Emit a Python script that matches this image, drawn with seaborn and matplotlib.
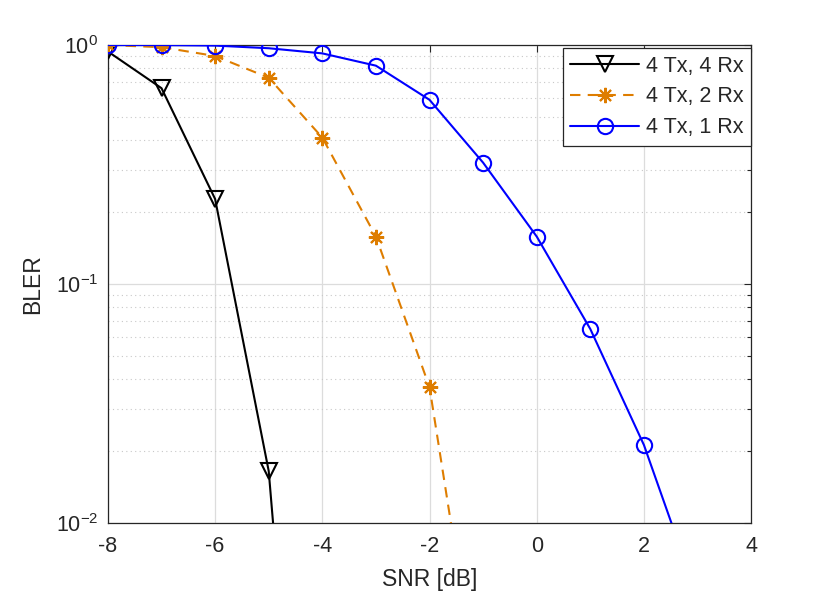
import matplotlib
matplotlib.use("Agg")
import matplotlib.pyplot as plt
import matplotlib.ticker as mticker
import seaborn as sns
import pandas as pd
import numpy as np

# SNR points (dB)
snr = [-8, -7, -6, -5, -4, -3, -2, -1, 0, 1, 2, 3]

# BLER values
bler_4rx = [0.94, 0.66, 0.227, 0.0165, 3.5e-5]
bler_2rx = [1.0, 0.98, 0.90, 0.73, 0.41, 0.158, 0.037, 0.0014]
bler_1rx = [1.0, 1.0, 0.995, 0.97, 0.923, 0.82, 0.59, 0.322, 0.158, 0.0648, 0.0212, 0.0049]

labels = ["4 Tx, 4 Rx", "4 Tx, 2 Rx", "4 Tx, 1 Rx"]
colors = ["#000000", "#DE7D00", "#0000FF"]
markers = ["v", (8, 2, 0), "o"]

sns.set_style("white")
plt.rcParams["font.family"] = ["Liberation Sans", "DejaVu Sans"]
plt.rcParams["mathtext.fontset"] = "custom"
plt.rcParams["mathtext.rm"] = "Liberation Sans"
plt.rcParams["mathtext.default"] = "regular"
plt.rcParams["axes.unicode_minus"] = False

fig = plt.figure(figsize=(8.3, 6.05), dpi=100)
ax = fig.add_axes([0.130, 0.1355, 0.775, 0.79])

series = [bler_4rx, bler_2rx, bler_1rx]
styles = ["-", (0, (5, 3.5)), "-"]
msizes = [12, 11, 11]
for vals, lab, col, mk, ls, ms in zip(series, labels, colors, markers, styles, msizes):
    df = pd.DataFrame({"snr": snr[:len(vals)], "bler": vals})
    sns.lineplot(data=df, x="snr", y="bler", ax=ax, color=col, label=lab,
                 marker=mk, markersize=ms, markerfacecolor="none",
                 markeredgecolor=col, markeredgewidth=1.5, linewidth=1.5,
                 linestyle=ls, errorbar=None, zorder=3)

ax.set_yscale("log")
ax.set_xlim(-8, 4)
ax.set_ylim(1e-2, 1)
ax.set_xticks(np.arange(-8, 5, 2))
ax.yaxis.set_major_locator(mticker.LogLocator(base=10, numticks=5))
ax.yaxis.set_minor_locator(mticker.LogLocator(base=10, subs=np.arange(2, 10), numticks=20))
ax.yaxis.set_minor_formatter(mticker.NullFormatter())

ax.grid(True, which="major", color="#dcdcdc", linewidth=0.9, linestyle="-", zorder=0)
ax.grid(True, which="minor", axis="y", color="#c8c8c8", linewidth=0.8, linestyle=(0, (1, 3)), zorder=0)
ax.set_axisbelow(True)

for sp in ax.spines.values():
    sp.set_color("#262626")
    sp.set_linewidth(0.9)
ax.tick_params(which="both", direction="in", top=True, right=True, colors="#262626",
               labelsize=15.5, labelcolor="#262626")
ax.tick_params(which="major", length=5, width=0.8, pad=7)
ax.tick_params(axis="x", which="major", pad=9)
ax.tick_params(which="minor", length=3, width=0.8)

ax.set_xlabel("SNR [dB]", fontsize=16.5, color="#262626", labelpad=8)
ax.set_ylabel("BLER", fontsize=16.5, color="#262626", labelpad=8)

leg = ax.legend(loc="upper right", bbox_to_anchor=(1.003, 0.998), borderaxespad=0.1,
                fontsize=15.5, handlelength=3.2, labelspacing=0.45, handletextpad=0.3,
                borderpad=0.35, fancybox=False, framealpha=1, edgecolor="#262626")
leg.get_frame().set_linewidth(0.9)

fig.savefig("out.png", dpi=100)
